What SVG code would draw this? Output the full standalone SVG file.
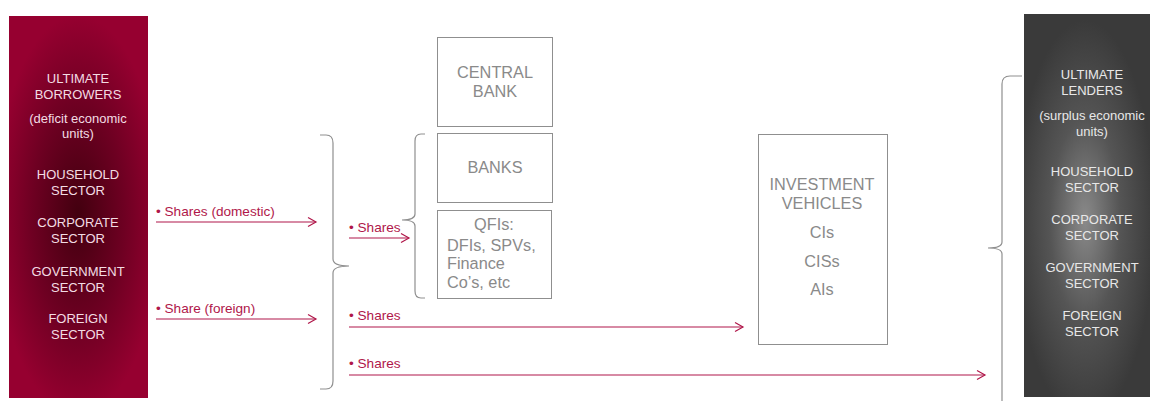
<svg xmlns="http://www.w3.org/2000/svg" width="1150" height="401" viewBox="0 0 1150 401">
<style>
text{font-family:"Liberation Sans",Arial,sans-serif}
.side{font-size:13px;text-anchor:middle}
.lt{fill:#f3dce3}
.rt{fill:#e8e8e8}
.box{fill:#fff;stroke:#8f8f8f;stroke-width:1}
.bt{font-size:16.3px;fill:#8a8a8a}
.c{text-anchor:middle}
.brace{fill:none;stroke:#8f8f8f;stroke-width:1.2}
.arr{stroke:#b0174a;stroke-width:1.2;fill:none;marker-end:url(#ah)}
.lbl{font-size:13.6px;fill:#b0174a}
</style>
<defs>
<radialGradient id="gRed" cx="78" cy="215" r="200" gradientUnits="userSpaceOnUse" gradientTransform="translate(78 215) scale(0.42 1) translate(-78 -215)">
<stop offset="0" stop-color="#42000f"/>
<stop offset="0.55" stop-color="#6e0022"/>
<stop offset="1" stop-color="#960030"/>
</radialGradient>
<radialGradient id="gGray" cx="1085" cy="220" r="200" gradientUnits="userSpaceOnUse" gradientTransform="translate(1085 220) scale(0.35 1) translate(-1085 -220)">
<stop offset="0" stop-color="#8a8a8a"/>
<stop offset="0.5" stop-color="#555555"/>
<stop offset="1" stop-color="#3a3a3a"/>
</radialGradient>
<marker id="ah" markerUnits="userSpaceOnUse" markerWidth="12" markerHeight="12" refX="9" refY="5" orient="auto" viewBox="0 0 12 10">
<path d="M1,0.5 L9,5 L1,9.5" fill="none" stroke="#b0174a" stroke-width="1.2"/>
</marker>
</defs>

<g id="borrowers">
<rect x="9" y="16" width="139" height="382" fill="url(#gRed)"/>
<text class="side lt" x="78" y="83">ULTIMATE</text>
<text class="side lt" x="78" y="99">BORROWERS</text>
<text class="side lt" x="78" y="123">(deficit economic</text>
<text class="side lt" x="78" y="138">units)</text>
<text class="side lt" x="78" y="179">HOUSEHOLD</text>
<text class="side lt" x="78" y="195">SECTOR</text>
<text class="side lt" x="78" y="227">CORPORATE</text>
<text class="side lt" x="78" y="243">SECTOR</text>
<text class="side lt" x="78" y="276">GOVERNMENT</text>
<text class="side lt" x="78" y="292">SECTOR</text>
<text class="side lt" x="78" y="323">FOREIGN</text>
<text class="side lt" x="78" y="339">SECTOR</text>
</g>

<g id="lenders">
<rect x="1024" y="14" width="126" height="383" fill="url(#gGray)"/>
<text class="side rt" x="1092" y="79">ULTIMATE</text>
<text class="side rt" x="1092" y="95">LENDERS</text>
<text class="side rt" x="1092" y="120">(surplus economic</text>
<text class="side rt" x="1092" y="136">units)</text>
<text class="side rt" x="1092" y="176">HOUSEHOLD</text>
<text class="side rt" x="1092" y="192">SECTOR</text>
<text class="side rt" x="1092" y="224">CORPORATE</text>
<text class="side rt" x="1092" y="240">SECTOR</text>
<text class="side rt" x="1092" y="272">GOVERNMENT</text>
<text class="side rt" x="1092" y="288">SECTOR</text>
<text class="side rt" x="1092" y="320">FOREIGN</text>
<text class="side rt" x="1092" y="336">SECTOR</text>
</g>

<g id="central-bank">
<rect class="box" x="437.5" y="37.5" width="115" height="89"/>
<text class="bt c" x="495" y="78">CENTRAL</text>
<text class="bt c" x="495" y="97">BANK</text>
</g>

<g id="banks">
<rect class="box" x="437.5" y="133.5" width="115" height="69"/>
<text class="bt c" x="495" y="173">BANKS</text>
</g>

<g id="qfis">
<rect class="box" x="437.5" y="210.5" width="114" height="88"/>
<text class="bt c" x="494" y="230">QFIs:</text>
<text class="bt" x="447" y="251">DFIs, SPVs,</text>
<text class="bt" x="447" y="269">Finance</text>
<text class="bt" x="447" y="288">Co’s, etc</text>
</g>

<g id="investment-vehicles">
<rect class="box" x="758.5" y="134.5" width="129" height="210"/>
<text class="bt c" x="822" y="190">INVESTMENT</text>
<text class="bt c" x="822" y="209">VEHICLES</text>
<text class="bt c" x="822" y="238">CIs</text>
<text class="bt c" x="822" y="267">CISs</text>
<text class="bt c" x="822" y="295">AIs</text>
</g>

<g id="braces">
<path class="brace" d="M320,135 L326,135 Q333,135 333,143 L333,259 Q333,266 349,266 Q333,266 333,273 L333,381 Q333,389 326,389 L320,389"/>
<path class="brace" d="M425,134 L421,134 Q415,134 415,141 L415,214 Q415,220 402,220 Q415,220 415,226 L415,291 Q415,298 421,298 L425,298"/>
<path class="brace" d="M1022,76 L1010,76 Q1002,76 1002,84 L1002,242 Q1002,248 988,248 Q1002,248 1002,254 L1002,401"/>
</g>

<g id="connectors">
<line class="arr" x1="156" y1="222" x2="316" y2="222"/>
<text class="lbl" x="156" y="216">• Shares (domestic)</text>
<line class="arr" x1="156" y1="319" x2="316" y2="319"/>
<text class="lbl" x="156" y="313">• Share (foreign)</text>
<line class="arr" x1="349" y1="238" x2="409" y2="238"/>
<text class="lbl" x="349" y="232">• Shares</text>
<line class="arr" x1="349" y1="327" x2="743" y2="327"/>
<text class="lbl" x="349" y="320">• Shares</text>
<line class="arr" x1="349" y1="375" x2="985" y2="375"/>
<text class="lbl" x="349" y="368">• Shares</text>
</g>
</svg>
